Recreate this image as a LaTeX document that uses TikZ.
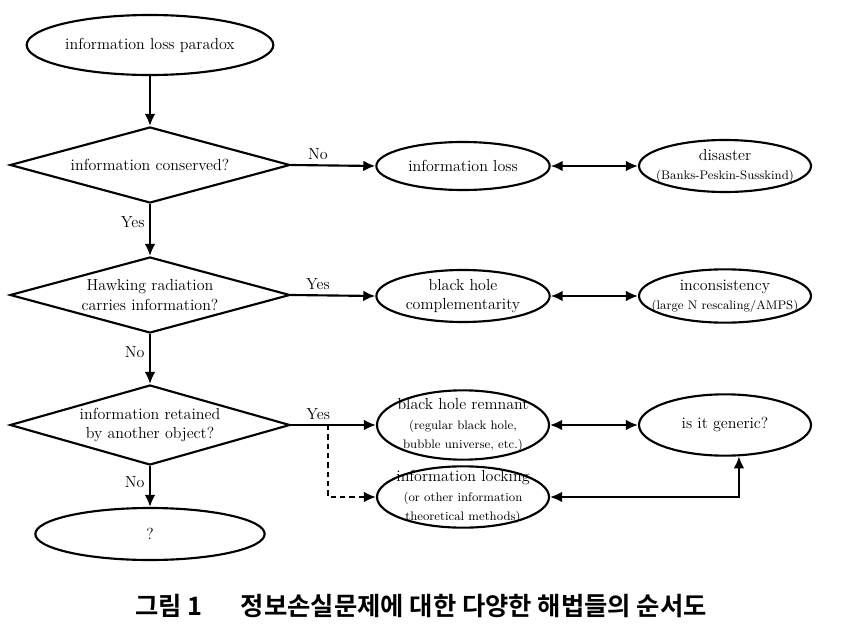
\documentclass[tikz,border=0pt]{standalone}
\usepackage{fontspec}
\newfontfamily\kfont{Noto Sans CJK KR}[BoldFont={Noto Sans CJK KR Bold}]
\usetikzlibrary{arrows.meta,shapes.geometric}
\newcommand{\note}{\fontsize{9.3}{10.8}\selectfont}

\begin{document}
\begin{tikzpicture}[x=0.75pt,y=-0.75pt,line width=1.6pt,font=\fontsize{12}{14.5}\selectfont,
  >={Latex[length=9pt,width=8pt]},
  term/.style={draw,ellipse,inner sep=0pt,minimum width=129pt,minimum height=39pt},
  test/.style={draw,diamond,inner sep=0pt,minimum width=210pt,minimum height=57pt},
  txt/.style={align=center,inner sep=0pt}]
\useasboundingbox (0,0) rectangle (846,631);

\node[term,minimum width=185pt,minimum height=45pt,label={[txt]center:information loss paradox}] (paradox) at (150,45) {};
\node[test,label={[txt]center:information conserved?}] (conserved) at (150,165) {};
\node[test,label={[txt]center:{Hawking radiation\\carries information?}}] (hawking) at (150,295) {};
\node[test,minimum height=60pt,label={[txt]center:{information retained\\by another object?}}] (retained) at (150,425) {};
\node[term,minimum width=172pt,label={[txt]center:?}] (unknown) at (150,534) {};

\node[term,minimum width=130pt,minimum height=36pt,label={[txt]center:information loss}] (loss) at (463,166) {};
\node[term,label={[txt]center:{disaster\\\note(Banks-Peskin-Susskind)}}] (disaster) at (725,166) {};
\node[term,minimum width=130pt,label={[txt]center:{black hole\\complementarity}}] (bhc) at (463,296) {};
\node[term,minimum height=40pt,label={[txt]center:{inconsistency\\\note(large N rescaling/AMPS)}}] (inconsistency) at (725,296) {};
\node[term,minimum height=52pt,label={[txt]center:{black hole remnant\\\note(regular black hole,\\\note bubble universe, etc.)}}] (remnant) at (463,425) {};
\node[term,minimum height=46pt,label={[txt]center:is it generic?}] (generic) at (725,425) {};
\node[term,minimum height=46pt,label={[txt]center:{information locking\\\note(or other information\\\note theoretical methods)}}] (locking) at (463,497) {};

\draw[->] (paradox.south) -- (conserved.north);
\draw[->] (conserved.south) -- node[left,pos=0.35]{Yes} (hawking.north);
\draw[->] (hawking.south) -- node[left,pos=0.37]{No} (retained.north);
\draw[->] (retained.south) -- node[left,pos=0.4]{No} (unknown.north);
\draw[->] (conserved.east) -- node[above,pos=0.32]{No} (loss.west);
\draw[->] (hawking.east) -- node[above,pos=0.32]{Yes} (bhc.west);
\draw[->] (retained.east) -- node[above,pos=0.32]{Yes} (remnant.west);
\draw[<->] (loss) -- (disaster);
\draw[<->] (bhc) -- (inconsistency);
\draw[<->] (remnant) -- (generic);
\coordinate (fork) at (328,425);
\draw[->,dash pattern=on 4pt off 3pt] (fork) |- (locking.west);
\draw[<->] (locking.east) -| (generic.-66);

\node[anchor=west,font=\kfont\bfseries\fontsize{19}{22}\selectfont] (caption) at (130,606) {그림 1\hspace{1.5em}정보손실문제에 대한 다양한 해법들의 순서도};
\end{tikzpicture}
\end{document}
